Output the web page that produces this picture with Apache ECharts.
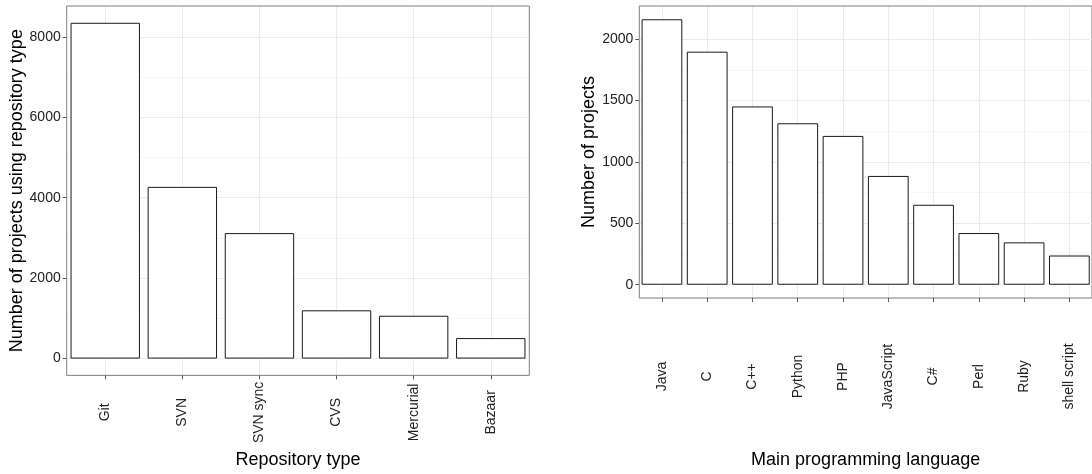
<!DOCTYPE html>
<html>
<head>
<meta charset="utf-8">
<script src="https://cdn.jsdelivr.net/npm/echarts@6/dist/echarts.min.js"></script>
<style>
  html, body { margin: 0; padding: 0; background: #fff; }
  #chart { width: 1092px; height: 474px; }
</style>
</head>
<body>
<div id="chart"></div>
<script>
// ---- data ----
const repoTypes = ['Git', 'SVN', 'SVN sync', 'CVS', 'Mercurial', 'Bazaar'];
const repoCounts = [8350, 4270, 3120, 1200, 1065, 510];
const repoMajorTicks = [0, 2000, 4000, 6000, 8000];
const repoMinorTicks = [1000, 3000, 5000, 7000];

const languages = ['Java', 'C', 'C++', 'Python', 'PHP', 'JavaScript', 'C#', 'Perl', 'Ruby', 'shell script'];
const languageCounts = [2162, 1898, 1452, 1315, 1212, 886, 651, 421, 345, 238];
const langMajorTicks = [0, 500, 1000, 1500, 2000];
const langMinorTicks = [250, 750, 1250, 1750];

// ---- styling ----
const FONT = '"Liberation Sans", Arial, sans-serif';
const MAJOR = '#ebebeb';
const MINOR = '#f7f7f7';
const TICK = '#555555';
const LABEL = '#222222';

function padded(values) {
  const mx = Math.max.apply(null, values);
  const pad = mx * 0.05;
  return { min: -pad, max: mx + pad };
}
const repoRange = padded(repoCounts);
const langRange = padded(languageCounts);

function catAxis(grid, cats, margin, name, nameGap) {
  return {
    type: 'category', gridIndex: grid, data: cats, position: 'bottom',
    boundaryGap: true,
    axisLine: { show: false, onZero: false },
    axisTick: { show: true, alignWithLabel: true, length: 4, lineStyle: { color: TICK, width: 1 } },
    axisLabel: { interval: 0, rotate: 90, align: 'center', verticalAlign: 'middle', margin: margin,
      fontSize: 14, color: LABEL, fontFamily: FONT },
    splitLine: { show: false },
    name: name, nameLocation: 'middle', nameGap: nameGap,
    nameTextStyle: { fontSize: 18, color: '#000', fontFamily: FONT }
  };
}
function centerLineAxis(grid, n) {
  const centers = [];
  for (let i = 0; i < n; i++) centers.push(i + 0.5);
  return {
    type: 'value', gridIndex: grid, min: 0, max: n, position: 'top',
    axisLine: { show: false, onZero: false },
    axisTick: { show: false, customValues: centers },
    axisLabel: { show: false, customValues: centers },
    splitLine: { show: true, lineStyle: { color: MAJOR, width: 1 } },
    z: -1
  };
}
function valAxis(grid, range, ticks, name) {
  return {
    type: 'value', gridIndex: grid, min: range.min, max: range.max, position: 'left',
    axisLine: { show: false, onZero: false },
    axisTick: { show: true, length: 4, customValues: ticks, lineStyle: { color: TICK, width: 1 } },
    axisLabel: { customValues: ticks, margin: 6, fontSize: 14, color: LABEL, fontFamily: FONT,
      formatter: function (v) { return String(v); } },
    splitLine: { show: true, lineStyle: { color: MAJOR, width: 1 } },
    name: name, nameLocation: 'middle', nameRotate: 90, nameGap: 24,
    nameTextStyle: { fontSize: 18, color: '#000', fontFamily: FONT }
  };
}
function minorAxis(grid, range, ticks) {
  return {
    type: 'value', gridIndex: grid, min: range.min, max: range.max, position: 'left',
    axisLine: { show: false, onZero: false },
    axisTick: { show: false, customValues: ticks },
    axisLabel: { show: false, customValues: ticks },
    splitLine: { show: true, lineStyle: { color: MINOR, width: 1 } },
    z: -2
  };
}

const barStyle = { color: '#ffffff', borderColor: '#1a1a1a', borderWidth: 1 };

const chart = echarts.init(document.getElementById('chart'), null, { renderer: 'canvas' });
chart.setOption({
  animation: false,
  backgroundColor: '#ffffff',
  textStyle: { fontFamily: FONT },
  grid: [
    { left: 66.7, top: 6, width: 462.6, height: 376, show: true, borderColor: '#7f7f7f', borderWidth: 1, backgroundColor: 'transparent' },
    { left: 639.3, top: 6, width: 463, height: 294, show: true, borderColor: '#7f7f7f', borderWidth: 1, backgroundColor: 'transparent' }
  ],
  xAxis: [
    catAxis(0, repoTypes, 37, 'Repository type', 71),
    centerLineAxis(0, repoTypes.length),
    catAxis(1, languages, 78.5, 'Main programming language', 153),
    centerLineAxis(1, languages.length)
  ],
  yAxis: [
    valAxis(0, repoRange, repoMajorTicks, 'Number of projects using repository type'),
    minorAxis(0, repoRange, repoMinorTicks),
    valAxis(1, langRange, langMajorTicks, 'Number of projects'),
    minorAxis(1, langRange, langMinorTicks)
  ],
  series: [
    { type: 'bar', xAxisIndex: 0, yAxisIndex: 0, data: repoCounts, barCategoryGap: '10%', itemStyle: barStyle, silent: true },
    { type: 'bar', xAxisIndex: 2, yAxisIndex: 2, data: languageCounts, barCategoryGap: '10%', itemStyle: barStyle, silent: true }
  ]
});
</script>
</body>
</html>
